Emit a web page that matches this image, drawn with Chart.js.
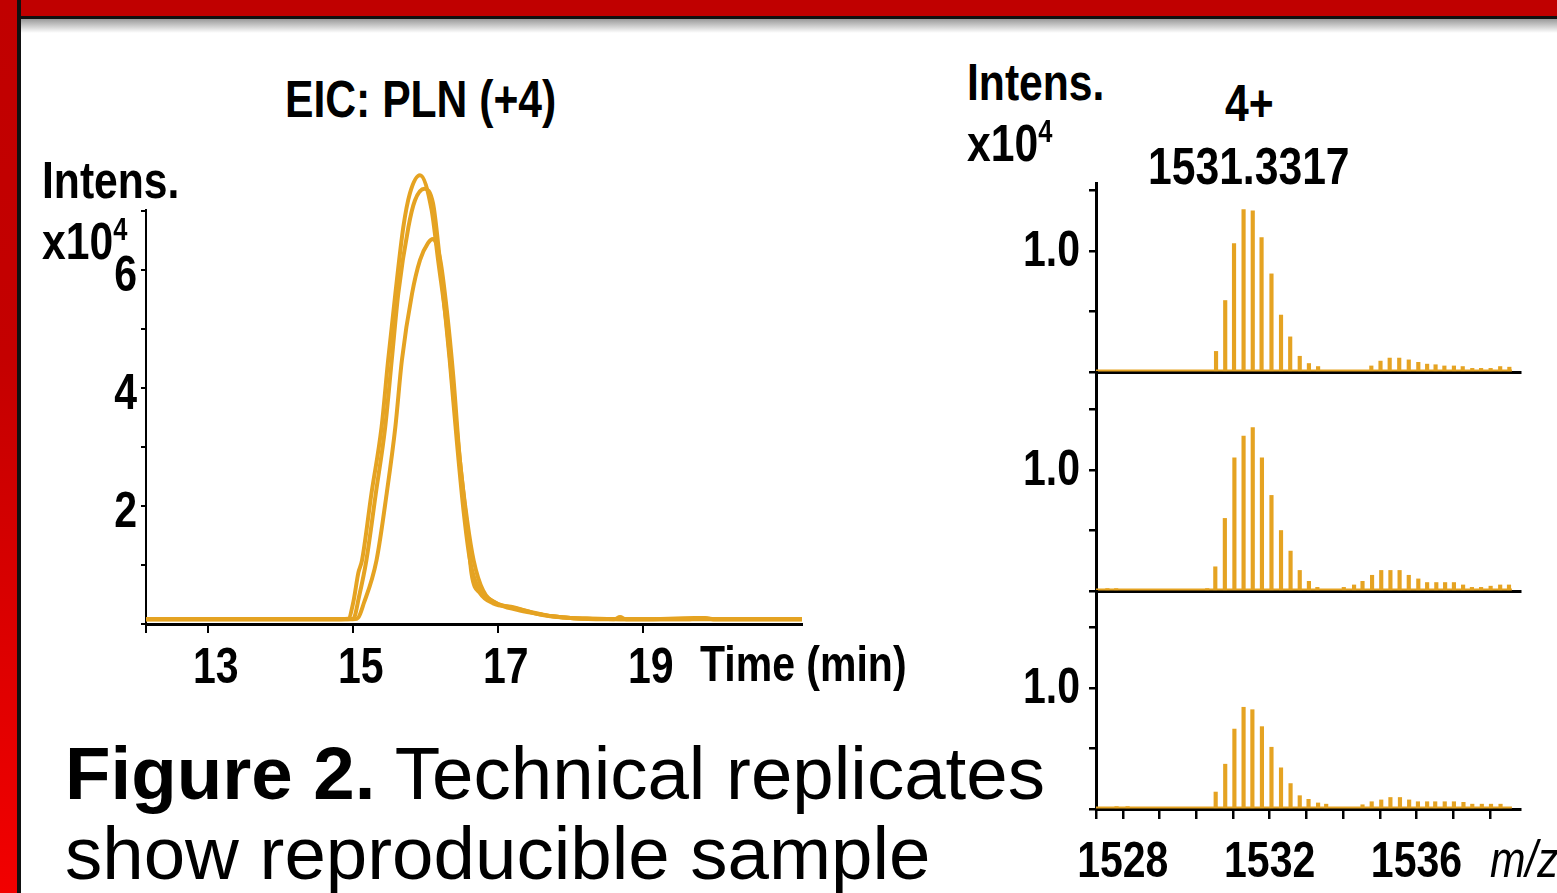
<!DOCTYPE html>
<html>
<head>
<meta charset="utf-8">
<script src="https://cdn.jsdelivr.net/npm/chart.js@4.4.1/dist/chart.umd.min.js"></script>
<style>
  body { margin: 0; width: 1557px; height: 893px; overflow: hidden; background: #fff; position: relative; }
  .abs { position: absolute; white-space: nowrap; line-height: 1; color: #000; }
  .lbl { font-family: 'Liberation Sans', Arial, sans-serif; font-weight: bold; font-size: 52px; transform: scaleX(0.82); transform-origin: left top; }
  .sup { font-size: 31px; vertical-align: 19px; }
  .cap { font-family: 'Liberation Sans', Arial, sans-serif; font-size: 74.5px; }
  canvas { position: absolute; }
  #banner { position: absolute; left: 21px; top: 0; width: 1536px; height: 16px; background: #c00000; }
  #bannerLine { position: absolute; left: 17px; top: 16px; width: 1540px; height: 3px; background: #111; }
  #shadow { position: absolute; left: 21px; top: 19px; width: 1536px; height: 14px; background: linear-gradient(#9a9a9a, #fff); }
  #strip { position: absolute; left: 0; top: 0; width: 17px; height: 893px; background: linear-gradient(#c00000, #c40000 40%, #f20000); }
  #stripLine { position: absolute; left: 17px; top: 0; width: 4px; height: 893px; background: #111; }
</style>
</head>
<body>
<div id="strip"></div>
<div id="stripLine"></div>
<div id="banner"></div>
<div id="shadow"></div>
<div id="bannerLine"></div>

<canvas id="eic" width="830" height="560" style="left:0px; top:150px;"></canvas>
<canvas id="spec1" width="540" height="224" style="left:1000px; top:150px;"></canvas>
<canvas id="spec2" width="540" height="231" style="left:1000px; top:362px;"></canvas>
<canvas id="spec3" width="540" height="312" style="left:1000px; top:581px;"></canvas>

<div class="abs lbl" style="left:285px; top:73px;">EIC: PLN (+4)</div>
<div class="abs lbl" style="left:42px; top:154px;">Intens.</div>
<div class="abs lbl" style="left:42px; top:214px;">x10<span class="sup">4</span></div>
<div class="abs lbl" style="left:700px; top:639px; font-size:50px;">Time (min)</div>

<div class="abs lbl" style="left:967px; top:56px;">Intens.</div>
<div class="abs lbl" style="left:967px; top:116px;">x10<span class="sup">4</span></div>
<div class="abs lbl" style="left:1225px; top:77px;">4+</div>
<div class="abs lbl" style="left:1148px; top:140px;">1531.3317</div>
<div class="abs lbl" style="left:1490px; top:833px; font-weight:normal; font-style:italic;">m/z</div>

<div class="abs cap" style="left:65px; top:737px;"><b>Figure 2.</b> Technical replicates</div>
<div class="abs cap" style="left:65px; top:817px;">show reproducible sample</div>

<script>
const ORANGE = '#E5A322';

// EIC: PLN (+4), three technical replicates (time in min, intensity x10^4)
const eicTime1 = [12.14, 13.0, 14.0, 14.7, 14.93, 15.0, 15.07, 15.12, 15.25, 15.39, 15.48, 15.58, 15.69, 15.78, 15.92, 16.08, 16.17, 16.29, 16.38, 16.47, 16.57, 16.63, 16.75, 16.93, 17.22, 17.45, 17.68, 17.91, 18.14, 18.6, 18.68, 18.76, 19.6, 19.8, 20.0, 20.6, 21.19];
const eicInt1  = [0.08, 0.08, 0.08, 0.08, 0.09, 0.37, 0.87, 1.08, 2.21, 3.34, 4.47, 5.6, 6.73, 7.3, 7.61, 7.02, 6.17, 5.04, 3.9, 2.78, 1.64, 0.86, 0.52, 0.35, 0.28, 0.2, 0.14, 0.11, 0.09, 0.08, 0.12, 0.08, 0.08, 0.1, 0.08, 0.08, 0.08];

const eicTime2 = [12.14, 13.0, 14.0, 14.8, 15.0, 15.08, 15.18, 15.31, 15.44, 15.53, 15.62, 15.76, 15.85, 15.98, 16.10, 16.17, 16.24, 16.33, 16.43, 16.52, 16.61, 16.70, 16.89, 17.26, 17.5, 17.75, 18.0, 18.3, 19.0, 20.0, 21.19];
const eicInt2  = [0.08, 0.08, 0.08, 0.08, 0.09, 0.47, 1.08, 2.21, 3.34, 4.47, 5.6, 6.73, 7.18, 7.38, 7.13, 6.45, 5.6, 4.47, 3.07, 1.93, 1.08, 0.68, 0.41, 0.26, 0.19, 0.13, 0.1, 0.09, 0.08, 0.08, 0.08];

const eicTime3 = [12.14, 13.0, 14.0, 14.9, 15.05, 15.15, 15.32, 15.46, 15.58, 15.67, 15.81, 15.92, 16.03, 16.10, 16.20, 16.29, 16.38, 16.47, 16.57, 16.66, 16.79, 16.98, 17.26, 17.5, 17.75, 18.0, 18.3, 19.0, 19.7, 19.85, 20.0, 21.19];
const eicInt3  = [0.08, 0.08, 0.08, 0.08, 0.09, 0.37, 1.08, 2.21, 3.34, 4.47, 5.6, 6.17, 6.46, 6.53, 6.17, 5.32, 4.19, 2.78, 1.76, 1.08, 0.57, 0.35, 0.24, 0.18, 0.13, 0.1, 0.09, 0.08, 0.1, 0.1, 0.08, 0.08];

const eicXMin = 12.14, eicXMax = 21.19;
const eicYMax = 7.02;
const eicXTicks = [13, 15, 17, 19];
const eicYTicks = [0, 1, 2, 3, 4, 5, 6, 7];
const eicYLabels = [2, 4, 6];

// mass spectra of the three replicates (m/z, intensity x10^4)
const specMz1  = [1530.54, 1530.79, 1531.03, 1531.29, 1531.54, 1531.78, 1532.05, 1532.31, 1532.56, 1532.82, 1533.07, 1533.32, 1534.77, 1535.02, 1535.27, 1535.53, 1535.79, 1536.05, 1536.29, 1536.52, 1536.76, 1537.02, 1537.26, 1537.52, 1537.76, 1538.02, 1538.28, 1538.53];
const specInt1 = [0.17, 0.59, 1.06, 1.34, 1.33, 1.11, 0.81, 0.47, 0.29, 0.13, 0.07, 0.045, 0.05, 0.09, 0.115, 0.115, 0.10, 0.08, 0.065, 0.06, 0.05, 0.05, 0.045, 0.03, 0.03, 0.03, 0.045, 0.04];

const specMz2  = [1527.58, 1527.82, 1530.3, 1530.52, 1530.78, 1531.04, 1531.29, 1531.54, 1531.79, 1532.05, 1532.31, 1532.57, 1532.82, 1533.07, 1533.30, 1534.02, 1534.30, 1534.53, 1534.79, 1535.04, 1535.29, 1535.54, 1535.79, 1536.05, 1536.29, 1536.54, 1536.78, 1537.02, 1537.27, 1537.51, 1537.76, 1538.02, 1538.28, 1538.52];
const specInt2 = [0.02, 0.02, 0.02, 0.20, 0.60, 1.10, 1.28, 1.35, 1.10, 0.79, 0.50, 0.33, 0.17, 0.08, 0.03, 0.03, 0.05, 0.08, 0.13, 0.17, 0.17, 0.17, 0.13, 0.10, 0.07, 0.07, 0.07, 0.07, 0.05, 0.03, 0.03, 0.04, 0.05, 0.05];

const specMz3  = [1527.83, 1528.13, 1530.53, 1530.79, 1531.04, 1531.29, 1531.53, 1531.79, 1532.05, 1532.31, 1532.57, 1532.82, 1533.06, 1533.32, 1533.54, 1534.53, 1534.78, 1535.04, 1535.29, 1535.55, 1535.80, 1536.04, 1536.29, 1536.51, 1536.77, 1537.02, 1537.28, 1537.52, 1537.78, 1538.03, 1538.29];
const specInt3 = [0.02, 0.02, 0.14, 0.37, 0.66, 0.84, 0.82, 0.68, 0.51, 0.34, 0.21, 0.11, 0.08, 0.05, 0.04, 0.035, 0.06, 0.075, 0.095, 0.095, 0.075, 0.06, 0.06, 0.06, 0.06, 0.06, 0.055, 0.04, 0.04, 0.04, 0.04];

const specBaseMz  = [1527.27, 1538.6];
const specBaseInt = [0.012, 0.012];

const specXMin = 1527.27, specXMax = 1538.82;
const specYMax = [1.56, 1.81, 1.80];
const specXTicks = [1528, 1529, 1530, 1531, 1532, 1533, 1534, 1535, 1536, 1537, 1538];
const specXLabels = [1528, 1532, 1536];
const specYTicks = [0, 0.5, 1.0, 1.5];
const specYLabels = [1.0];

function toXY(xs, ys) {
    return xs.map((x, i) => ({ x: x, y: ys[i] }));
}

// tick labels in a narrow bold face (Arial Narrow look), placed with the chart's own scales
const narrowTicks = {
    id: 'narrowTicks',
    afterDraw(chart, args, opts) {
        const ctx = chart.ctx;
        ctx.save();
        ctx.fillStyle = '#000';
        ctx.font = 'bold 50px "Liberation Sans", Arial, sans-serif';
        (opts.labels || []).forEach(l => {
            const scale = chart.scales[l.axis];
            l.values.forEach(v => {
                const p = scale.getPixelForValue(v);
                let x, y;
                if (l.axis === 'x') {
                    x = p + l.shift;
                    y = scale.top + l.gap;
                    ctx.textAlign = 'center';
                    ctx.textBaseline = 'alphabetic';
                } else {
                    x = scale.right - l.gap;
                    y = p + l.shift;
                    ctx.textAlign = 'right';
                    ctx.textBaseline = 'middle';
                }
                ctx.save();
                ctx.translate(x, y);
                ctx.scale(0.82, 1);
                ctx.fillText(l.format(v), 0, 0);
                ctx.restore();
            });
        });
        ctx.restore();
    }
};

window.onload = function() {
    createEic();
    createSpec('spec1', specMz1, specInt1, specYMax[0], 33, 2, false);
    createSpec('spec2', specMz2, specInt2, specYMax[1], 10, 2, false);
    createSpec('spec3', specMz3, specInt3, specYMax[2], 10, 84, true);
};

function createEic() {
    const ctx = document.getElementById('eic').getContext('2d');
    const reps = [[eicTime1, eicInt1], [eicTime2, eicInt2], [eicTime3, eicInt3]];
    new Chart(ctx, {
        type: 'line',
        plugins: [narrowTicks],
        data: {
            datasets: reps.map((r, i) => ({
                label: 'Replicate ' + (i + 1),
                data: toXY(r[0], r[1]),
                borderColor: ORANGE,
                borderWidth: 4,
                pointRadius: 0,
                cubicInterpolationMode: 'monotone',
                clip: false
            }))
        },
        options: {
            responsive: false,
            animation: false,
            layout: { padding: { top: 60, right: 28, left: 0, bottom: 0 } },
            plugins: {
                legend: { display: false },
                tooltip: { enabled: false },
                narrowTicks: {
                    labels: [
                        { axis: 'x', values: eicXTicks, format: v => String(v), gap: 59, shift: 7.5 },
                        { axis: 'y', values: eicYLabels, format: v => String(v), gap: 9, shift: 7 }
                    ]
                }
            },
            scales: {
                x: {
                    type: 'linear',
                    min: eicXMin,
                    max: eicXMax,
                    afterBuildTicks: s => { s.ticks = [eicXMin].concat(eicXTicks).map(v => ({ value: v })); },
                    afterFit: s => { s.height = 86; },
                    ticks: { display: false },
                    grid: { drawOnChartArea: false, tickLength: 9, color: '#000', lineWidth: 2 },
                    border: { color: '#000', width: 3 }
                },
                y: {
                    min: 0,
                    max: eicYMax,
                    afterBuildTicks: s => { s.ticks = eicYTicks.map(v => ({ value: v })); },
                    afterFit: s => { s.width = 146; },
                    ticks: { display: false },
                    grid: { drawOnChartArea: false, tickLength: 5, color: '#000', lineWidth: 2 },
                    border: { color: '#000', width: 2 }
                }
            }
        }
    });
}

function createSpec(id, mz, ints, yMax, padTop, xHeight, showX) {
    const ctx = document.getElementById(id).getContext('2d');
    const labels = [{ axis: 'y', values: specYLabels, format: v => v.toFixed(1), gap: 16, shift: 1 }];
    if (showX) {
        labels.push({ axis: 'x', values: specXLabels, format: v => String(v), gap: 68, shift: 0 });
    }
    new Chart(ctx, {
        type: 'bar',
        plugins: [narrowTicks],
        data: {
            datasets: [{
                type: 'line',
                label: 'baseline',
                data: toXY(specBaseMz, specBaseInt),
                borderColor: ORANGE,
                borderWidth: 2,
                pointRadius: 0
            }, {
                label: 'spectrum',
                data: toXY(mz, ints),
                backgroundColor: ORANGE,
                barThickness: 3.5
            }]
        },
        options: {
            responsive: false,
            animation: false,
            layout: { padding: { top: padTop, right: 20, left: 0, bottom: 0 } },
            plugins: {
                legend: { display: false },
                tooltip: { enabled: false },
                narrowTicks: { labels: labels }
            },
            scales: {
                x: {
                    type: 'linear',
                    offset: false,
                    min: specXMin,
                    max: specXMax,
                    afterBuildTicks: s => { s.ticks = [specXMin].concat(specXTicks).map(v => ({ value: v })); },
                    afterFit: s => { s.height = xHeight; },
                    ticks: { display: false },
                    grid: { offset: false, drawOnChartArea: false, drawTicks: showX, tickLength: 10, color: '#000', lineWidth: 2.5 },
                    border: { color: '#000', width: 3 }
                },
                y: {
                    min: 0,
                    max: yMax,
                    afterBuildTicks: s => { s.ticks = specYTicks.map(v => ({ value: v })); },
                    afterFit: s => { s.width = 96; },
                    ticks: { display: false },
                    grid: { drawOnChartArea: false, tickLength: 7, color: '#000', lineWidth: 2.5 },
                    border: { color: '#000', width: 3 }
                }
            }
        }
    });
}
</script>
</body>
</html>
